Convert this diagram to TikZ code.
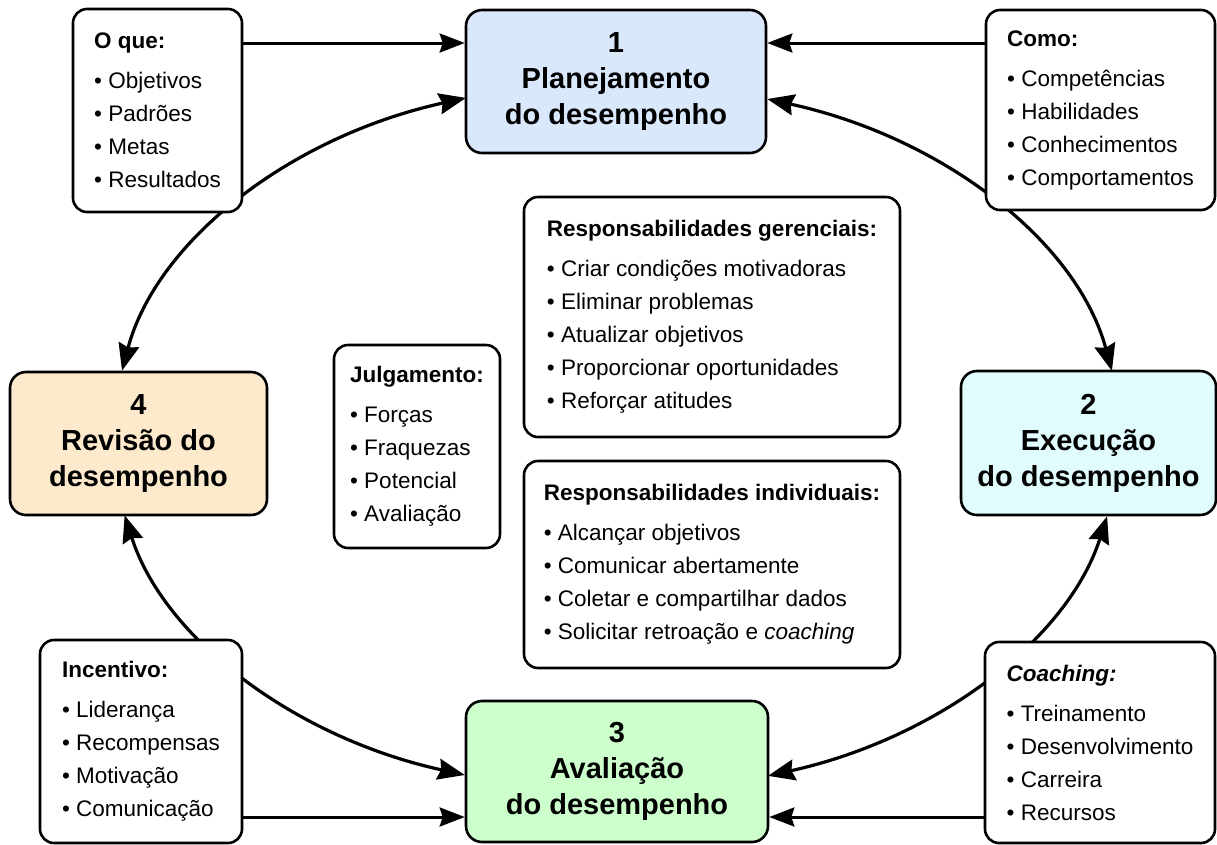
\documentclass[tikz,border=0pt]{standalone}
\usepackage{fontspec}
\setmainfont{Liberation Sans}
\usetikzlibrary{arrows.meta,backgrounds}

\definecolor{planfill}{HTML}{DAE8FC}
\definecolor{execfill}{HTML}{E0FCFD}
\definecolor{avalfill}{HTML}{CCFFCC}
\definecolor{revfill}{HTML}{FDEACD}

\newcommand\stagefont{\fontsize{29}{36}\selectfont\bfseries}
\newcommand\infofont{\fontsize{22.5}{33}\selectfont}
\newcommand\bul{\textbullet\ }

\begin{document}
\begin{tikzpicture}[x=1pt,y=1pt,
  stage/.style={draw=black, line width=2.6pt, rounded corners=16pt,
    align=center, font=\stagefont, inner sep=0pt},
  infobox/.style={draw=black, fill=white, line width=2.6pt, rounded corners=14pt,
    align=left, font=\infofont, inner sep=0pt},
  flow/.style={line width=3pt, -{Stealth[length=25pt,width=19pt,inset=3pt]}},
  looparrow/.style={line width=3.2pt,
    {Stealth[length=27pt,width=21pt,inset=3pt]}-{Stealth[length=27pt,width=21pt,inset=3pt]}},
]
\useasboundingbox (0,0) rectangle (1217,-844);

% the four stages of the cycle
\node[stage, fill=planfill, minimum width=300pt, minimum height=143pt] (b1) at (616,-81.5)
  {1\\Planejamento\\do desempenho};
\node[stage, fill=execfill, minimum width=255pt, minimum height=144pt] (b2) at (1088.5,-443)
  {2\\Execução\\do desempenho};
\node[stage, fill=avalfill, minimum width=302pt, minimum height=141pt] (b3) at (617,-771.5)
  {3\\Avaliação\\do desempenho};
\node[stage, fill=revfill, minimum width=257pt, minimum height=143pt] (b4) at (138.5,-443.5)
  {4\\Revisão do\\desempenho};

% corner boxes feeding the stages
\node[infobox, minimum width=169pt, minimum height=203pt] (oque) at (157.5,-110.5)
  {\textbf{O que:}\\[7pt]\bul Objetivos\\\bul Padrões\\\bul Metas\\\bul Resultados};
\node[infobox, minimum width=229pt, minimum height=200pt] (como) at (1100.5,-110)
  {\textbf{Como:}\\[7pt]\bul Competências\\\bul Habilidades\\\bul Conhecimentos\\\bul Comportamentos};
\node[infobox, minimum width=202pt, minimum height=203pt] (incent) at (141,-741.5)
  {\textbf{Incentivo:}\\[7pt]\bul Liderança\\\bul Recompensas\\\bul Motivação\\\bul Comunicação};
\node[infobox, minimum width=230pt, minimum height=201pt] (coach) at (1100,-742.5)
  {\textbf{\textit{Coaching:}}\\[7pt]\bul Treinamento\\\bul Desenvolvimento\\\bul Carreira\\\bul Recursos};

% boxes in the middle of the cycle
\node[infobox, minimum width=166pt, minimum height=203pt] (julg) at (417,-446.5)
  {\textbf{Julgamento:}\\[7pt]\bul Forças\\\bul Fraquezas\\\bul Potencial\\\bul Avaliação};
\node[infobox, minimum width=376pt, minimum height=240pt] (ger) at (712,-317)
  {\textbf{Responsabilidades gerenciais:}\\[7pt]\bul Criar condições motivadoras\\\bul Eliminar problemas\\\bul Atualizar objetivos\\\bul Proporcionar oportunidades\\\bul Reforçar atitudes};
\node[infobox, minimum width=376pt, minimum height=207pt] (ind) at (712,-564.5)
  {\textbf{Responsabilidades individuais:}\\[7pt]\bul Alcançar objetivos\\\bul Comunicar abertamente\\\bul Coletar e compartilhar dados\\\bul Solicitar retroação e \textit{coaching}};

% straight inputs
\coordinate (rowtop) at (0,-43);
\coordinate (rowbot) at (0,-817);
\draw[flow] (oque.east |- rowtop) -- (b1.west |- rowtop);
\draw[flow] (como.west |- rowtop) -- (b1.east |- rowtop);
\draw[flow] (incent.east |- rowbot) -- (b3.west |- rowbot);
\draw[flow] (coach.west |- rowbot) -- (b3.east |- rowbot);

% the cycle: elliptic arcs between the stages
\begin{scope}[on background layer]
\draw[looparrow] ([yshift=-17.5pt]b1.east) arc[start angle=72.7, end angle=10.75, x radius=503pt, y radius=354pt];
\draw[looparrow] ([xshift=18.6pt]b2.south) arc[start angle=-12.73, end angle=-72.47, x radius=503pt, y radius=354pt];
\draw[looparrow] ([yshift=-3.5pt]b3.west) arc[start angle=-107.41, end angle=-167.27, x radius=503pt, y radius=354pt];
\draw[looparrow] ([xshift=-16.5pt]b4.north) arc[start angle=169.42, end angle=107.41, x radius=503pt, y radius=354pt];
\end{scope}
\end{tikzpicture}
\end{document}
